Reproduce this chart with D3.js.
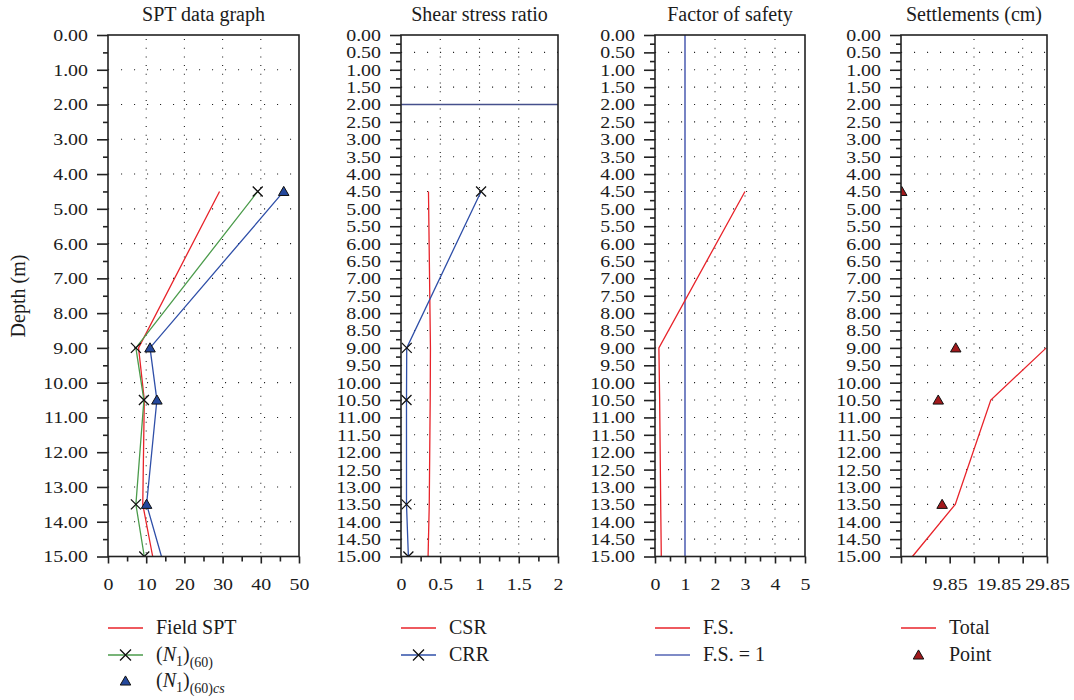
<!DOCTYPE html>
<html>
<head>
<meta charset="utf-8">
<script src="https://cdn.jsdelivr.net/npm/d3@7"></script>
<style>
  body { margin: 0; background: #fff; }
  svg { display: block; }
  svg text { font-family: "Liberation Serif", "Tinos", "DejaVu Serif", serif; fill: #1c1c1c; }
</style>
</head>
<body>
<svg id="chart" width="1074" height="700"></svg>
<script>
// ---- data ----
const depthRange = [0, 15];
const sptDepths = [4.5, 9.0, 10.5, 13.5, 15.0];
const fieldSPT = [29.2, 8.0, 9.5, 9.1, 11.7];
const n160 = [39.2, 7.3, 9.4, 7.3, 9.5];
const n160cs = [46.0, 11.0, 12.8, 10.1, 14.0];
const n160csMarkerDepths = [4.5, 9.0, 10.5, 13.5];

const csr = [0.35, 0.375, 0.372, 0.36, 0.345];
const crr = [1.02, 0.073, 0.07, 0.07, 0.094];
const waterTableDepth = 2.0;

const factorOfSafety = [3.0, 0.13, 0.155, 0.19, 0.21];
const fsLimit = 1;

const pointDepths = [4.5, 9.0, 10.5, 13.5];
const pointSettlement = [0.0, 11.1, 7.5, 8.3];
const totalDepths = [9.0, 10.5, 13.5, 15.0];
const totalSettlement = [29.7, 18.3, 11.0, 2.2];

const titles = ["SPT data graph", "Shear stress ratio", "Factor of safety", "Settlements (cm)"];
const settleTicks = [-0.15, 4.85, 9.85, 14.85, 19.85, 24.85, 29.85];
const settleLabels = [9.85, 19.85, 29.85];

// ---- styles ----
const FONT = '"Liberation Serif", "Tinos", "DejaVu Serif", serif';
const RED = "#e8232a", GREEN = "#4b9b4b", BLUE = "#2f4fa8", FSBLUE = "#5565b5",
      WATER = "#46508c", TRI_BLUE = "#24489c", TRI_RED = "#a2191c";
const TICK_FONT = 17, TICK_STRETCH = 1.17;

const svg = d3.select("#chart");
const plotTop = 35, plotBottom = 556.5;
const y = d3.scaleLinear().domain(depthRange).range([plotTop, plotBottom]);

const step = (a, b, s) => d3.range(Math.round((b - a) / s) + 1).map(i => +(a + i * s).toFixed(4));

// widen tick labels a little horizontally
function styleTickText(sel) {
  sel.attr("font-size", TICK_FONT).attr("font-family", FONT).attr("fill", "#1c1c1c");
  sel.each(function () {
    const len = this.getComputedTextLength();
    if (len > 0) d3.select(this).attr("textLength", len * TICK_STRETCH).attr("lengthAdjust", "spacingAndGlyphs");
  });
}

const panels = [
  { left: 108, right: 299, domain: [0, 50], xMajor: step(0, 50, 10), xMinor: step(5, 45, 10),
    xLabels: null, xGrid: [10, 20, 30, 40], yMajor: step(0, 15, 1), yMinor: step(0.5, 14.5, 1),
    yGrid: step(1, 14, 1) },
  { left: 401, right: 558, domain: [0, 2], xMajor: step(0, 2, 0.5), xMinor: step(0.25, 1.75, 0.5),
    xLabels: null, xGrid: [0.5, 1, 1.5], yMajor: step(0, 15, 0.5), yMinor: step(0.25, 14.75, 0.5),
    yGrid: step(0.5, 14.5, 0.5) },
  { left: 655, right: 805, domain: [0, 5], xMajor: step(0, 5, 1), xMinor: step(0.5, 4.5, 1),
    xLabels: null, xGrid: [2, 3, 4], yMajor: step(0, 15, 0.5), yMinor: step(0.25, 14.75, 0.5),
    yGrid: step(0.5, 14.5, 0.5) },
  { left: 901, right: 1047, domain: [-0.15, 29.85], xMajor: settleTicks, xMinor: [],
    xLabels: settleLabels, xGrid: [14.85, 24.85], yMajor: step(0, 15, 0.5), yMinor: step(0.25, 14.75, 0.5),
    yGrid: step(0.5, 14.5, 0.5) }
];

panels.forEach((p, i) => {
  p.x = d3.scaleLinear().domain(p.domain).range([p.left, p.right]);
  const g = svg.append("g");

  // title
  g.append("text").attr("x", (p.left + p.right) / 2).attr("y", 21)
    .attr("text-anchor", "middle").attr("font-size", 20).text(titles[i]);

  // dotted grid
  const grid = g.append("g").attr("stroke", "#222").attr("stroke-width", 1.1);
  grid.selectAll(".hg").data(p.yGrid).join("line")
    .attr("x1", p.left).attr("x2", p.right)
    .attr("y1", d => y(d)).attr("y2", d => y(d))
    .attr("stroke-dasharray", "1.1 11.9");
  grid.selectAll(".vg").data(p.xGrid).join("line")
    .attr("x1", d => p.x(d)).attr("x2", d => p.x(d))
    .attr("y1", plotTop + 4).attr("y2", plotBottom)
    .attr("stroke-dasharray", "1 7.7");

  // clip
  g.append("clipPath").attr("id", "clip" + i).append("rect")
    .attr("x", p.left).attr("y", plotTop).attr("width", p.right - p.left).attr("height", plotBottom - plotTop);
  p.plot = g.append("g").attr("clip-path", `url(#clip${i})`);

  // y axis
  const yAxis = d3.axisLeft(y).tickValues(p.yMajor).tickSize(11).tickPadding(9)
    .tickFormat(d => d.toFixed(2));
  const ya = g.append("g").attr("transform", `translate(${p.left},0)`).call(yAxis);
  styleTickText(ya.selectAll("text"));
  const yMin = g.append("g").attr("transform", `translate(${p.left},0)`)
    .call(d3.axisLeft(y).tickValues(p.yMinor).tickSize(5).tickFormat(""));

  // x axis
  const xAxis = d3.axisBottom(p.x).tickValues(p.xMajor).tickSize(7).tickPadding(14)
    .tickFormat(d => (p.xLabels ? (p.xLabels.includes(d) ? d.toFixed(2) : "") : d3.format("~g")(d)));
  const xa = g.append("g").attr("transform", `translate(0,${plotBottom})`).call(xAxis);
  styleTickText(xa.selectAll("text"));
  const xMin = g.append("g").attr("transform", `translate(0,${plotBottom})`)
    .call(d3.axisBottom(p.x).tickValues(p.xMinor).tickSize(5).tickFormat(""));

  [ya, yMin, xa, xMin].forEach(a => {
    a.select(".domain").remove();
    a.selectAll("line").attr("stroke", "#222").attr("stroke-width", 1.6);
  });

  // frame
  g.append("rect").attr("x", p.left).attr("y", plotTop)
    .attr("width", p.right - p.left).attr("height", plotBottom - plotTop)
    .attr("fill", "none").attr("stroke", "#222").attr("stroke-width", 1.6);
});

// ---- marks ----
const xMarker = (sel, size) => sel.append("path")
  .attr("d", `M${-size},${-size}L${size},${size}M${-size},${size}L${size},${-size}`)
  .attr("stroke", "#111").attr("stroke-width", 1.3).attr("fill", "none");
const triangle = d3.symbol().type(d3.symbolTriangle).size(48);

function drawLine(p, depths, values, color, width = 1.3) {
  const line = d3.line().x((d, k) => p.x(values[k])).y(d => y(d));
  p.plot.append("path").datum(depths).attr("d", line)
    .attr("fill", "none").attr("stroke", color).attr("stroke-width", width);
}
function drawX(p, depths, values) {
  p.plot.selectAll(null).data(depths).join("g")
    .attr("transform", (d, k) => `translate(${p.x(values[k])},${y(d)})`)
    .call(s => xMarker(s, 5));
}
function drawTri(p, depths, valueOf, fill) {
  p.plot.selectAll(null).data(depths).join("path")
    .attr("d", triangle)
    .attr("transform", d => `translate(${p.x(valueOf(d))},${y(d) + 1})`)
    .attr("fill", fill).attr("stroke", "#111").attr("stroke-width", 1);
}

const [p1, p2, p3, p4] = panels;

// SPT panel
drawLine(p1, sptDepths, fieldSPT, RED);
drawLine(p1, sptDepths, n160, GREEN);
drawLine(p1, sptDepths, n160cs, BLUE);
drawX(p1, sptDepths, n160);
drawTri(p1, n160csMarkerDepths, d => n160cs[sptDepths.indexOf(d)], TRI_BLUE);

// Shear stress ratio panel
p2.plot.append("line").attr("x1", p2.left).attr("x2", p2.right)
  .attr("y1", y(waterTableDepth)).attr("y2", y(waterTableDepth))
  .attr("stroke", WATER).attr("stroke-width", 1.6);
drawLine(p2, sptDepths, csr, RED);
drawLine(p2, sptDepths, crr, BLUE);
drawX(p2, sptDepths, crr);

// Factor of safety panel
p3.plot.append("line").attr("x1", p3.x(fsLimit)).attr("x2", p3.x(fsLimit))
  .attr("y1", y(depthRange[0])).attr("y2", y(depthRange[1]))
  .attr("stroke", FSBLUE).attr("stroke-width", 1.6);
drawLine(p3, sptDepths, factorOfSafety, RED);

// Settlement panel
drawLine(p4, totalDepths, totalSettlement, RED);
drawTri(p4, pointDepths, d => pointSettlement[pointDepths.indexOf(d)], TRI_RED);

// y axis title
svg.append("text").attr("transform", "translate(25,296) rotate(-90)")
  .attr("text-anchor", "middle").attr("font-size", 20).text("Depth (m)");

// ---- legends ----
const rows = [628, 655, 681];
function legendLine(p, row, color) {
  svg.append("line").attr("x1", p.left).attr("x2", p.left + 35)
    .attr("y1", rows[row]).attr("y2", rows[row]).attr("stroke", color).attr("stroke-width", 1.4);
}
function legendText(p, row) {
  return svg.append("text").attr("x", p.left + 48).attr("y", rows[row] + 6).attr("font-size", 20);
}
function legendX(p, row) {
  svg.append("g").attr("transform", `translate(${p.left + 17.5},${rows[row]})`).call(s => xMarker(s, 5.5));
}
function legendTri(p, row, fill) {
  svg.append("path").attr("d", triangle)
    .attr("transform", `translate(${p.left + 17.5},${rows[row] + 1})`)
    .attr("fill", fill).attr("stroke", "#111").attr("stroke-width", 1);
}
function nLabel(t, cs) {
  t.append("tspan").text("(");
  t.append("tspan").attr("font-style", "italic").text("N");
  t.append("tspan").attr("font-size", 14).attr("dy", 5).text("1");
  t.append("tspan").attr("dy", -5).text(")");
  t.append("tspan").attr("font-size", 14).attr("dy", 6).text("(60)");
  if (cs) t.append("tspan").attr("font-size", 14).attr("font-style", "italic").text("cs");
}

legendLine(p1, 0, RED); legendText(p1, 0).text("Field SPT");
legendLine(p1, 1, GREEN); legendX(p1, 1); nLabel(legendText(p1, 1), false);
legendTri(p1, 2, TRI_BLUE); nLabel(legendText(p1, 2), true);

legendLine(p2, 0, RED); legendText(p2, 0).text("CSR");
legendLine(p2, 1, BLUE); legendX(p2, 1); legendText(p2, 1).text("CRR");

legendLine(p3, 0, RED); legendText(p3, 0).text("F.S.");
legendLine(p3, 1, FSBLUE); legendText(p3, 1).text("F.S. = 1");

legendLine(p4, 0, RED); legendText(p4, 0).text("Total");
legendTri(p4, 1, TRI_RED); legendText(p4, 1).text("Point");
</script>
</body>
</html>
